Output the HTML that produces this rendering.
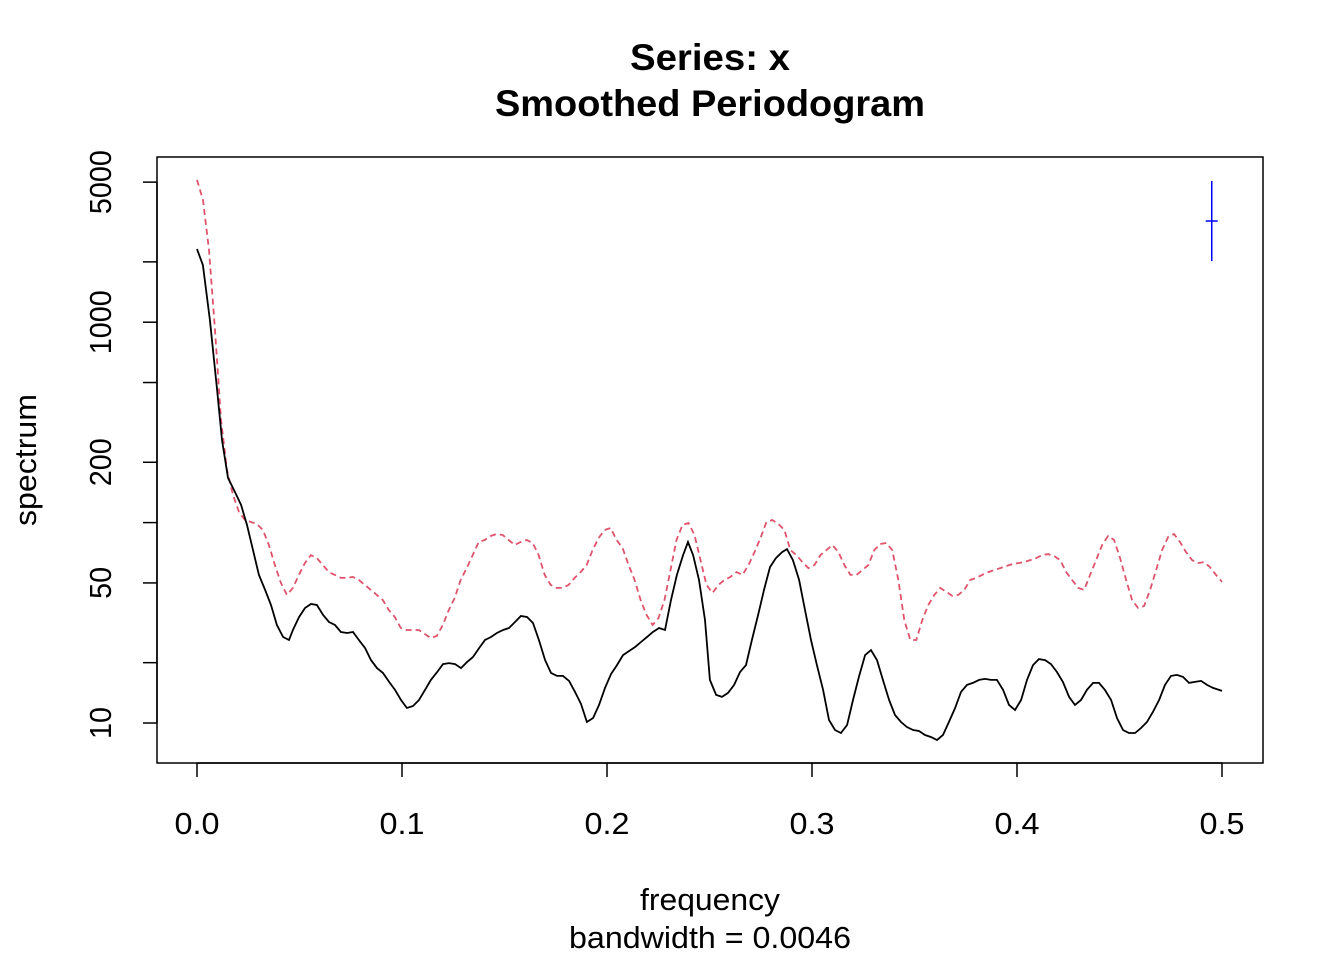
<!DOCTYPE html>
<html><head><meta charset="utf-8"><style>
html,body{margin:0;padding:0;background:#fff;}
svg{display:block;font-family:"Liberation Sans",Arial,sans-serif;}
</style></head><body>
<svg id="chart" width="1344" height="960" viewBox="0 0 1344 960" xmlns="http://www.w3.org/2000/svg">
<rect width="1344" height="960" fill="#fff"/>
<text x="710" y="70" font-size="37" font-weight="bold" text-anchor="middle" textLength="160" lengthAdjust="spacingAndGlyphs">Series: x</text>
<text x="710" y="116" font-size="37" font-weight="bold" text-anchor="middle" textLength="430" lengthAdjust="spacingAndGlyphs">Smoothed Periodogram</text>
<rect x="157" y="157" width="1106" height="606" fill="none" stroke="#000" stroke-width="1.5"/>
<text x="710" y="910" font-size="31" text-anchor="middle" textLength="140" lengthAdjust="spacingAndGlyphs">frequency</text>
<text x="710" y="948" font-size="31" text-anchor="middle" textLength="282" lengthAdjust="spacingAndGlyphs">bandwidth = 0.0046</text>
<text transform="translate(36,460) rotate(-90)" font-size="31" text-anchor="middle" textLength="132" lengthAdjust="spacingAndGlyphs">spectrum</text>
<g id="axes"></g>
<g id="series"></g>
</svg>
<script>
const xTicks=[0,0.1,0.2,0.3,0.4,0.5];
const xTickLabels=["0.0","0.1","0.2","0.3","0.4","0.5"];
const yTicks=[10,50,200,1000,5000];
const yTickLabels=["10","50","200","1000","5000"];
const yMinorTicks=[20,100,500,2000];
const rawFreq=[0,.0029,.0063,.0098,.0122,.0151,.0185,.0215,.0244,.0273,.0302,.0332,.0361,.0390,.0420,.0449,.0468,.0498,.0527,.0556,.0585,.0615,.0644,.0673,.0702,.0732,.0761,.0790,.0820,.0849,.0878,.0907,.0937,.0966,.0995,.1024,.1054,.1083,.1112,.1141,.1171,.1200,.1229,.1259,.1288,.1317,.1346,.1376,.1405,.1434,.1463,.1493,.1522,.1551,.1580,.1610,.1639,.1668,.1698,.1727,.1756,.1785,.1815,.1844,.1873,.1902,.1932,.1961,.1990,.2020,.2049,.2078,.2107,.2137,.2166,.2195,.2224,.2254,.2283,.2312,.2341,.2371,.2395,.2420,.2449,.2478,.2502,.2532,.2561,.2590,.2620,.2649,.2678,.2707,.2737,.2766,.2795,.2824,.2854,.2878,.2907,.2937,.2966,.2995,.3024,.3054,.3083,.3112,.3141,.3171,.3200,.3229,.3259,.3288,.3317,.3346,.3376,.3405,.3434,.3463,.3493,.3522,.3551,.3580,.3610,.3639,.3668,.3698,.3727,.3756,.3785,.3815,.3844,.3873,.3902,.3932,.3961,.3990,.4020,.4049,.4078,.4107,.4137,.4166,.4195,.4224,.4254,.4283,.4312,.4341,.4371,.4400,.4429,.4459,.4488,.4517,.4546,.4576,.4605,.4634,.4663,.4693,.4722,.4751,.4780,.4810,.4839,.4868,.4898,.4927,.4956,.5000];
const rawLog10Spectrum=[3.365,3.285,3.011,2.662,2.412,2.223,2.153,2.088,1.988,1.863,1.739,1.664,1.589,1.489,1.429,1.414,1.464,1.529,1.574,1.594,1.589,1.539,1.504,1.489,1.454,1.449,1.454,1.414,1.374,1.314,1.274,1.250,1.205,1.165,1.115,1.075,1.085,1.115,1.165,1.215,1.254,1.294,1.299,1.294,1.274,1.304,1.329,1.374,1.414,1.429,1.449,1.464,1.474,1.504,1.534,1.529,1.499,1.414,1.314,1.250,1.235,1.235,1.210,1.155,1.095,1.005,1.025,1.090,1.175,1.245,1.289,1.339,1.359,1.379,1.404,1.429,1.454,1.474,1.464,1.614,1.739,1.838,1.903,1.838,1.714,1.514,1.215,1.140,1.130,1.150,1.190,1.254,1.289,1.414,1.539,1.664,1.778,1.823,1.853,1.868,1.813,1.714,1.564,1.414,1.289,1.165,1.015,0.965,0.950,0.990,1.115,1.230,1.339,1.364,1.314,1.215,1.115,1.040,1.005,0.980,0.965,0.960,0.940,0.930,0.915,0.940,1.005,1.075,1.155,1.190,1.200,1.215,1.220,1.215,1.215,1.165,1.090,1.065,1.115,1.215,1.289,1.319,1.314,1.294,1.254,1.205,1.130,1.090,1.115,1.165,1.200,1.200,1.165,1.115,1.025,0.965,0.950,0.950,0.975,1.005,1.055,1.115,1.190,1.235,1.240,1.230,1.200,1.205,1.210,1.190,1.175,1.160];
const smoothLog10Spectrum=[3.710,3.610,3.360,2.961,2.512,2.262,2.138,2.053,2.013,2.003,1.993,1.963,1.888,1.788,1.699,1.639,1.674,1.739,1.798,1.838,1.823,1.788,1.753,1.739,1.724,1.724,1.729,1.714,1.689,1.664,1.639,1.614,1.564,1.529,1.474,1.464,1.464,1.464,1.444,1.424,1.434,1.489,1.564,1.624,1.714,1.773,1.838,1.903,1.913,1.933,1.943,1.938,1.913,1.888,1.903,1.913,1.898,1.838,1.739,1.689,1.674,1.674,1.689,1.724,1.753,1.788,1.863,1.923,1.963,1.973,1.913,1.873,1.788,1.714,1.614,1.539,1.489,1.524,1.614,1.763,1.913,1.988,1.998,1.938,1.813,1.689,1.649,1.689,1.714,1.729,1.753,1.739,1.788,1.853,1.923,2.003,2.013,1.993,1.963,1.863,1.838,1.803,1.773,1.788,1.838,1.863,1.888,1.853,1.788,1.739,1.739,1.763,1.788,1.863,1.893,1.898,1.863,1.714,1.514,1.414,1.414,1.514,1.589,1.639,1.674,1.654,1.634,1.639,1.664,1.714,1.724,1.739,1.753,1.763,1.773,1.783,1.793,1.798,1.803,1.813,1.823,1.838,1.843,1.833,1.813,1.753,1.714,1.674,1.664,1.739,1.813,1.888,1.933,1.913,1.823,1.714,1.614,1.574,1.584,1.664,1.763,1.863,1.928,1.943,1.903,1.853,1.813,1.798,1.803,1.778,1.739,1.704];
const ciFreq=0.495, ciCenter=3.505, ciLow=3.305, ciHigh=3.705;

const NS="http://www.w3.org/2000/svg";
const X0=157,X1=1263,Y0=157,Y1=763;
function xs(f){return 197+f*2050;}
function ys(l){return 723-(l-1)*200.4;}
function mk(tag,attrs,parent){const e=document.createElementNS(NS,tag);for(const k in attrs)e.setAttribute(k,attrs[k]);parent.appendChild(e);return e;}
const axes=document.getElementById('axes');
const ser=document.getElementById('series');
let p=mk('path',{d:`M${xs(xTicks[0])},${Y1}H${xs(xTicks[xTicks.length-1])}`,stroke:'#000','stroke-width':1.5,fill:'none'},axes);


xTicks.forEach((t,i)=>{
  const l=mk('line',{x1:xs(t),x2:xs(t),y1:Y1,y2:Y1+14,stroke:'#000','stroke-width':1.5},axes);
  
  
  const tx=mk('text',{x:xs(t),y:Y1+71,'font-size':31,'text-anchor':'middle',textLength:45,lengthAdjust:'spacingAndGlyphs'},axes);
  tx.textContent=xTickLabels[i];
  
  
});
const allY=yTicks.concat(yMinorTicks);
const ymin=ys(Math.log10(Math.max(...allY))),ymax=ys(Math.log10(Math.min(...allY)));
p=mk('line',{x1:X0,x2:X0,y1:ymin,y2:ymax,stroke:'#000','stroke-width':1.5},axes);


allY.forEach(v=>{
  const l=mk('line',{x1:X0-14,x2:X0,y1:ys(Math.log10(v)),y2:ys(Math.log10(v)),stroke:'#000','stroke-width':1.5},axes);
  
  
});
yTicks.forEach((v,i)=>{
  const y=ys(Math.log10(v));
  const tx=mk('text',{transform:`translate(111,${y}) rotate(-90)`,'font-size':31,'text-anchor':'middle',textLength:yTickLabels[i].length*16,lengthAdjust:'spacingAndGlyphs'},axes);
  tx.textContent=yTickLabels[i];
  
  
});
const n=smoothLog10Spectrum.length;
const smoothFreq=smoothLog10Spectrum.map((_,i)=>i*0.5/(n-1));
let d=smoothLog10Spectrum.map((l,i)=>(i?'L':'M')+xs(smoothFreq[i]).toFixed(1)+','+ys(l).toFixed(1)).join('');
const red=mk('path',{d:d,fill:'none',stroke:'#DF536B','stroke-width':1.8,'stroke-dasharray':'6,4'},ser);


d=rawLog10Spectrum.map((l,i)=>(i?'L':'M')+xs(rawFreq[i]).toFixed(1)+','+ys(l).toFixed(1)).join('');
const blk=mk('path',{d:d,fill:'none',stroke:'#000','stroke-width':1.8},ser);


const cx=xs(ciFreq);
const ci=mk('line',{x1:cx,x2:cx,y1:ys(ciHigh),y2:ys(ciLow),stroke:'#0000FF','stroke-width':1.5},ser);


const cc=mk('line',{x1:cx-6,x2:cx+6,y1:ys(ciCenter),y2:ys(ciCenter),stroke:'#0000FF','stroke-width':1.5},ser);


</script>
</body></html>
